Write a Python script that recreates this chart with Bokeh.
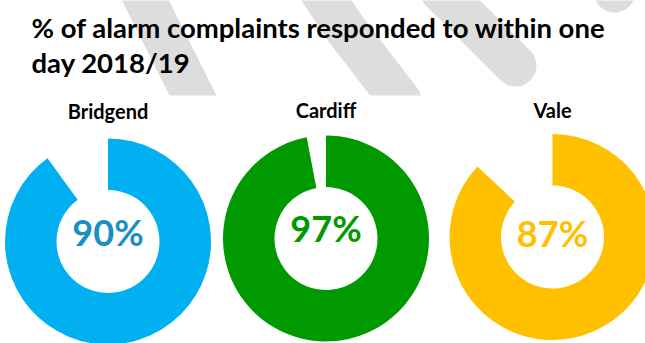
import numpy as np
from bokeh.plotting import figure
from bokeh.models import Range1d, ColumnDataSource
from bokeh.core.properties import value
from bokeh.embed import file_html
from bokeh.resources import INLINE

# ---- data ----
regions = ["Bridgend", "Cardiff", "Vale"]
pct = [90, 97, 87]
pct_labels = ["90%", "97%", "87%"]
title_lines = ["% of alarm complaints responded to within one", "day 2018/19"]

# ---- styles / layout ----
ring_colors = ["#00B0F0", "#009900", "#FFC000"]
pct_colors = ["#1A8FC2", "#009900", "#FFC000"]
W, H = 645, 343
cx = [107.5, 325.5, 552.0]
cy_s = [241.0, 238.0, 236.5]          # screen y of centres
name_base_s = [110.5, 109.5, 109.5]
pct_base_s = [231.0, 227.5, 232.0]
title_base_s = [27, 62]
R_OUT, R_IN = 103.0, 51.5
FONT = "Lato"

def sy(v):
    return H - v

p = figure(width=W, height=H, x_range=Range1d(0, W), y_range=Range1d(0, H),
           output_backend="svg", toolbar_location=None,
           x_axis_type=None, y_axis_type=None, min_border=0)
p.outline_line_color = None
p.grid.visible = False
p.background_fill_color = "white"
p.border_fill_color = "white"

# watermark strokes (decoration)
stripes_x = [[140, 200], [316, 346, 400], [440, 515], [595, 614]]
stripes_y = [[-10, 110], [-15, 30, 100], [-10, 65], [-40, -9]]
p.multi_line([list(a) for a in stripes_x], [[sy(v) for v in b] for b in stripes_y],
             line_color="#dddddd", line_width=42, line_cap="round", line_join="round")
# white chart area
p.quad(left=[0], right=[W], bottom=[0], top=[sy(95)], fill_color="white", line_color=None)

# donuts
src = ColumnDataSource(dict(
    x=cx, y=[sy(v) for v in cy_s],
    start=[np.pi / 2] * 3,
    end=[np.pi / 2 - v / 100 * 2 * np.pi for v in pct],
    color=ring_colors,
))
p.annular_wedge(x="x", y="y", inner_radius=R_IN, outer_radius=R_OUT,
                start_angle="start", end_angle="end", direction="clock",
                fill_color="color", line_color=None, source=src)

# region names
p.text(x=cx, y=[sy(v) for v in name_base_s], text=regions,
       text_font=value(FONT), text_font_style="bold", text_font_size="20px",
       text_align="center", text_baseline="alphabetic", text_color="black")

# percentage labels
p.text(x=cx, y=[sy(v) for v in pct_base_s], text=pct_labels,
       text_font=value(FONT), text_font_style="bold", text_font_size="36px",
       text_align="center", text_baseline="alphabetic", text_color=pct_colors)

# title
p.text(x=[31, 31], y=[sy(v) for v in title_base_s], text=title_lines,
       text_font=value(FONT), text_font_style="bold", text_font_size="27.5px",
       text_align="left", text_baseline="alphabetic", text_color="black")

open("out.html", "w").write(file_html(p, INLINE))
